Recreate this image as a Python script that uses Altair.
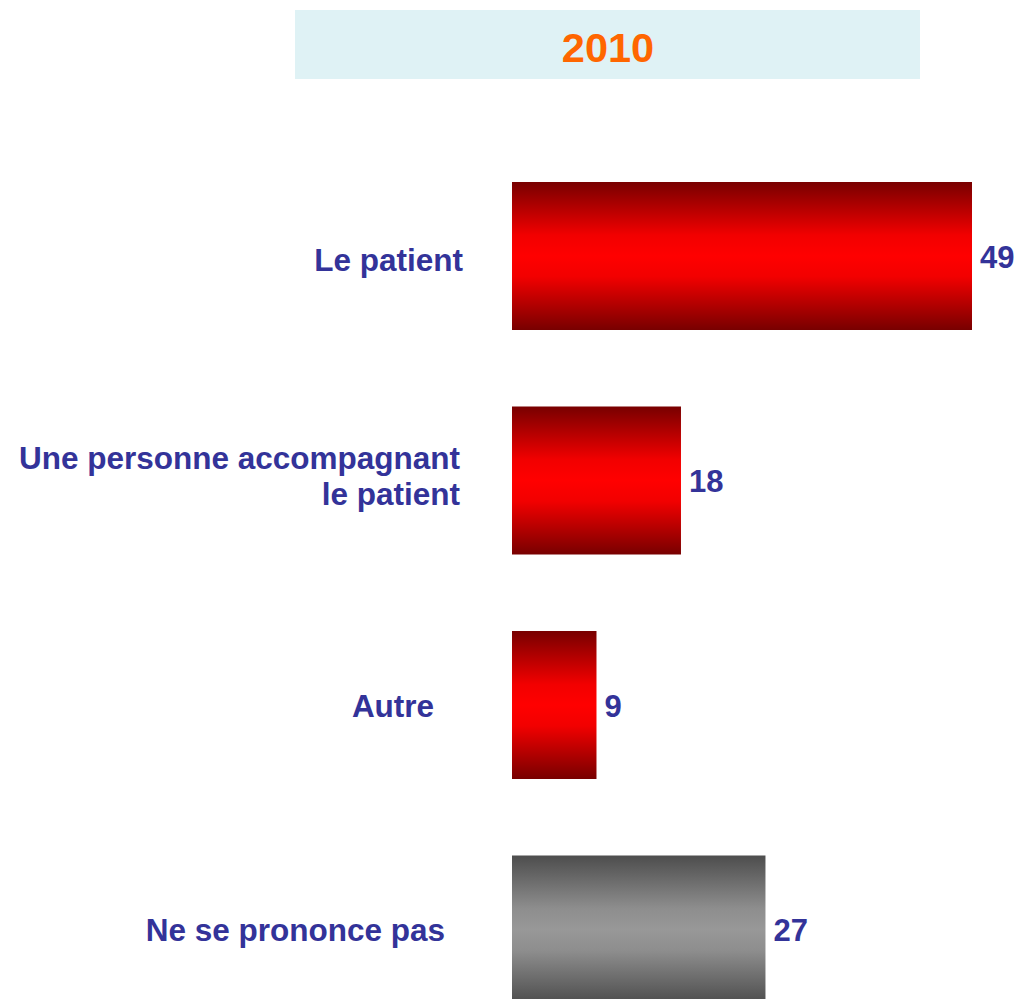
import altair as alt
import pandas as pd

# ---- data ----
categories = ["Le patient", "Une personne accompagnant\nle patient", "Autre", "Ne se prononce pas"]
values = [49, 18, 9, 27]
groups = ["red", "red", "red", "gray"]
title_text = "2010"

df = pd.DataFrame({
    "label": categories,
    "value": values,
    "group": groups,
    "idx": list(range(len(categories))),
})

FONT = "Liberation Sans"
LABEL_COLOR = "#333399"

x_scale = alt.Scale(domain=[0, 49], nice=False, zero=True)
y_scale = alt.Scale(domain=[-0.6592, 3.3096], reverse=True, nice=False, zero=False, padding=0)

X = alt.X("value:Q", scale=x_scale, axis=None)
Y = alt.Y("idx:Q", scale=y_scale, axis=None)

red_grad = alt.Gradient(
    gradient="linear", x1=0, x2=0, y1=0, y2=1,
    stops=[
        alt.GradientStop(color="#780000", offset=0),
        alt.GradientStop(color="#f20000", offset=0.36),
        alt.GradientStop(color="#ff0000", offset=0.5),
        alt.GradientStop(color="#f20000", offset=0.64),
        alt.GradientStop(color="#780000", offset=1),
    ],
)
gray_grad = alt.Gradient(
    gradient="linear", x1=0, x2=0, y1=0, y2=1,
    stops=[
        alt.GradientStop(color="#4d4d4d", offset=0),
        alt.GradientStop(color="#8e8e8e", offset=0.36),
        alt.GradientStop(color="#989898", offset=0.5),
        alt.GradientStop(color="#8e8e8e", offset=0.64),
        alt.GradientStop(color="#4d4d4d", offset=1),
    ],
)

base = alt.Chart(df)

red_bars = base.transform_filter(alt.datum.group == "red").mark_bar(
    orient="horizontal", size=148, color=red_grad, clip=True
).encode(x=X, y=Y)

gray_bars = base.transform_filter(alt.datum.group == "gray").mark_bar(
    orient="horizontal", size=148, color=gray_grad, clip=True
).encode(x=X, y=Y)

value_text = base.mark_text(
    align="left", baseline="alphabetic", dx=8, dy=12,
    font=FONT, fontSize=31, fontWeight="bold", color=LABEL_COLOR,
).encode(x=X, y=Y, text="value:Q")


def label_layer(i, xpos, align, dy):
    return base.transform_filter(alt.datum.idx == i).mark_text(
        align=align, baseline="alphabetic", dy=dy,
        font=FONT, fontSize=31.5, fontWeight="bold", color=LABEL_COLOR,
        lineBreak="\n", lineHeight=35.5,
    ).encode(x=alt.value(xpos), y=Y, text="label:N")


labels = [
    label_layer(0, -49, "right", 15),
    label_layer(1, -52, "right", -11),
    label_layer(2, -119, "center", 12),
    label_layer(3, -67, "right", 12),
]

title_data = alt.Data(values=[{"t": title_text}])
title_box = alt.Chart(title_data).mark_rect(color="#DFF2F5").encode(
    x=alt.value(-217), x2=alt.value(408), y=alt.value(-98), y2=alt.value(-29)
)
title_label = alt.Chart(title_data).mark_text(
    align="center", baseline="alphabetic",
    font=FONT, fontSize=41.5, fontWeight="bold", color="#FF6600",
).encode(x=alt.value(96), y=alt.value(-46), text="t:N")

chart = alt.layer(
    title_box, title_label, red_bars, gray_bars, value_text, *labels
).properties(
    width=460,
    height=891,
    padding={"left": 504, "top": 100, "right": 43, "bottom": 0},
    autosize=alt.AutoSizeParams(type="none"),
).configure_view(stroke=None)

chart.save("out.html", embed_options={"renderer": "svg", "actions": False})
